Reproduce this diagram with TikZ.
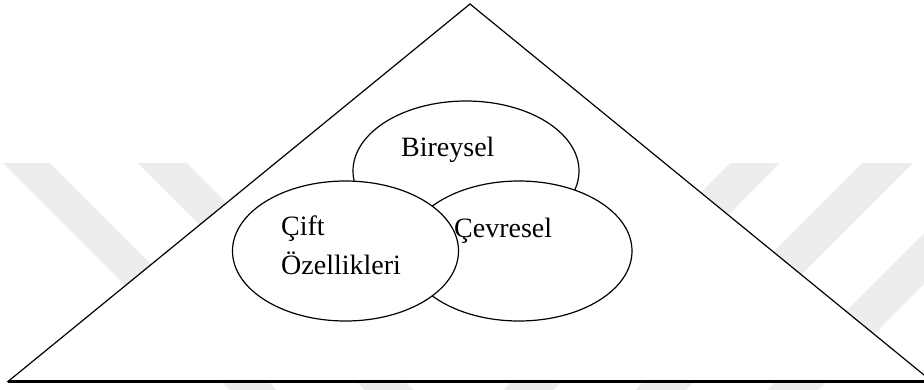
\documentclass[tikz,border=0pt]{standalone}
\usepackage{fontspec}
\setmainfont{Liberation Serif}
\usetikzlibrary{shapes.geometric}
\definecolor{wmgray}{RGB}{237,237,237}
\tikzset{
  wmband/.style={fill=wmgray, draw=none},
  bubble/.style={ellipse, draw=black, fill=white, line width=1.2pt,
    minimum width=226pt, minimum height=140pt, inner sep=0pt},
  label/.style={anchor=base west, inner sep=0pt, font=\fontsize{28}{34}\selectfont}
}
\begin{document}
\begin{tikzpicture}[x=1pt,y=-1pt]
\useasboundingbox (0,0) rectangle (924,389);
\clip (0,0) rectangle (924,389);
\fill[white] (0,0) rectangle (924,389);
% faint watermark bands
\fill[wmband] (3,163) -- (50,163) -- (290,403) -- (243,403) -- cycle;
\fill[wmband] (138,163) -- (187,163) -- (427,403) -- (378,403) -- cycle;
\fill[wmband] (730,163) -- (780,163) -- (540,403) -- (490,403) -- cycle;
\fill[wmband] (862,163) -- (913,163) -- (673,403) -- (622,403) -- cycle;
\fill[wmband] (994,163) -- (1045,163) -- (805,403) -- (754,403) -- cycle;
% triangle
\coordinate (apex) at (470,4);
\coordinate (bl) at (8,381.5);
\coordinate (br) at (932,381.5);
\filldraw[fill=white, draw=black, line width=1.2pt, line join=miter] (apex) -- (br) -- (bl) -- cycle;
\draw[line width=2.2pt] (bl) -- (br);
% ellipses
\node[bubble] (bir) at (466,171) {};
\node[bubble] (cev) at (519,251) {};
\node[bubble] (cif) at (345.5,251) {};
% labels
\node[label] (tbir) at (401,156) {Bireysel};
\node[label] (tcev) at (454,237) {Çevresel};
\node[label] (tcif1) at (281,235) {Çift};
\node[label] (tcif2) at (281,274) {Özellikleri};
\end{tikzpicture}
\end{document}
